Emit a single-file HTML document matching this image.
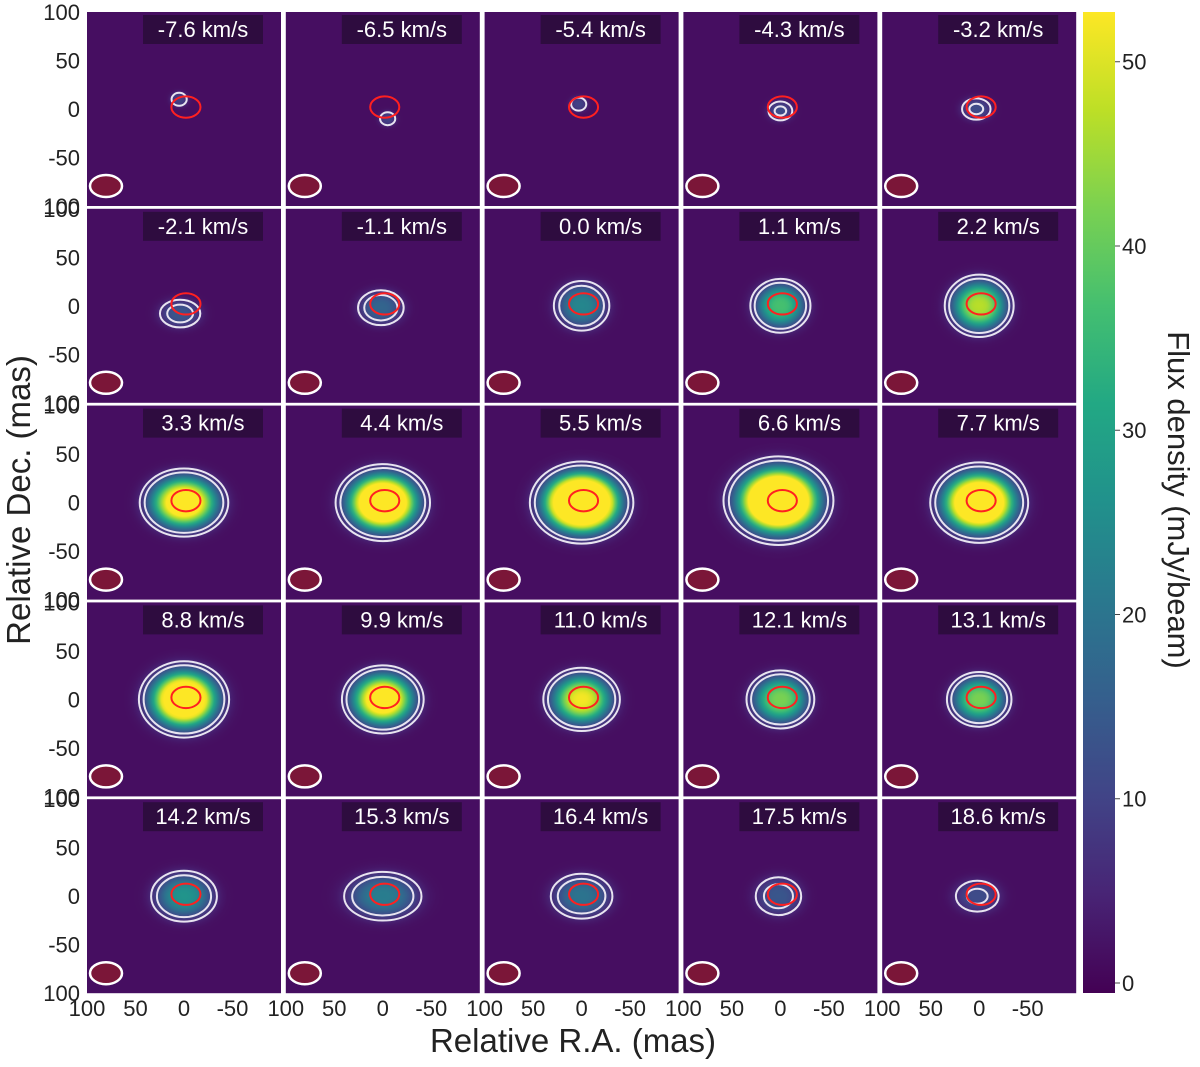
<!DOCTYPE html>
<html><head><meta charset="utf-8">
<style>
html,body{margin:0;padding:0;background:#fff;}
body{width:1200px;height:1062px;overflow:hidden;font-family:"Liberation Sans","DejaVu Sans",sans-serif;}
</style></head>
<body>
<svg id="fig" width="1200" height="1062" xmlns="http://www.w3.org/2000/svg" font-family="Liberation Sans, DejaVu Sans, sans-serif">
<defs>
<linearGradient id="cbar" x1="0" y1="1" x2="0" y2="0"></linearGradient>
</defs>
</svg>
<script>
const velocities = ["-7.6","-6.5","-5.4","-4.3","-3.2","-2.1","-1.1","0.0","1.1","2.2","3.3","4.4","5.5","6.6","7.7","8.8","9.9","11.0","12.1","13.1","14.2","15.3","16.4","17.5","18.6"];
const peakFlux = [8,8,8,10,10,12,15,22,35,45,60,75,90,85,75,70,60,50,40,40,25,20,18,12,10];
const sigmaRA = [7,7,7,10,12,16,17,19,19,21,26,27,29,31,28,26,24,23,21,20,22,27,22,18,18];
const sigmaDec = [6,6,6,8,9,11,13,17,17,19,20,22,23,25,23,22,20,19,18,17,17,17,16,15,13];
const centerRA = [5,-5,3,0,3,4,2,0,0,0,0,0,0,2,0,0,0,0,0,0,0,0,0,2,2];
const centerDec = [10,-10,5,-2,0,-8,-2,0,0,0,0,0,0,2,0,0,0,0,0,0,0,0,0,0,0];
const contourLevels = [4,9];
const cbarTicks = [0,10,20,30,40,50];
const axisTicks = [100,50,0,-50];
const yTickLabels = ["100","50","0","-50","100"];
const yTickVals = [100,50,0,-50,-100];
const VMAX = 52.7, BG = 2, EXPO = 3, EXT = 2.4;

const vir = ["#440154","#482475","#414487","#355f8d","#2a788e","#21918c","#22a884","#44bf70","#7ad151","#bddf26","#fde725"];
function hex(h){return [parseInt(h.slice(1,3),16),parseInt(h.slice(3,5),16),parseInt(h.slice(5,7),16)];}
function viridis(t){t=Math.max(0,Math.min(1,t));const f=t*10,i=Math.min(9,Math.floor(f)),u=f-i;const a=hex(vir[i]),b=hex(vir[i+1]);
return "rgb("+a.map((v,k)=>Math.round(v+(b[k]-v)*u)).join(",")+")";}

const NS="http://www.w3.org/2000/svg";
const svg=document.getElementById('fig');
const defs=svg.querySelector('defs');
function mk(tag,attrs,parent){const e=document.createElementNS(NS,tag);for(const k in attrs)e.setAttribute(k,attrs[k]);(parent||svg).appendChild(e);return e;}

const X0=87,Y0=12,PW=194,PH=194,PX=198.8,PY=196.8,S=PW/200;
function xs(col,ra){return X0+col*PX+(100-ra)*S;}
function ys(row,dec){return Y0+row*PY+(100-dec)*S;}

for(let i=0;i<25;i++){
  const row=Math.floor(i/5),col=i%5;
  const g=mk('g',{});
  
  
  const left=X0+col*PX,top=Y0+row*PY;
  const cp=mk('clipPath',{id:'cp'+i},defs);
  mk('rect',{x:left,y:top,width:PW,height:PH},cp);
  const bg=mk('rect',{x:left,y:top,width:PW,height:PH,fill:viridis(BG/VMAX)},g);
  
  
  const gr=mk('radialGradient',{id:'rg'+i},defs);
  for(let s=0;s<=24;s++){const t=s/24;const r=EXT*t;const v=BG+peakFlux[i]*Math.exp(-Math.pow(r,EXPO)/2);
    mk('stop',{offset:t,'stop-color':viridis(v/VMAX)},gr);}
  const blob=mk('ellipse',{cx:xs(col,centerRA[i]),cy:ys(row,centerDec[i]),rx:EXT*sigmaRA[i]*S,ry:EXT*sigmaDec[i]*S,fill:'url(#rg'+i+')','clip-path':'url(#cp'+i+')'},g);
  
  
  contourLevels.forEach(L=>{
    const tot=peakFlux[i];
    if(tot<=L)return;
    const k=Math.pow(2*Math.log(tot/L),1/EXPO);
    const c=mk('ellipse',{cx:xs(col,centerRA[i]),cy:ys(row,centerDec[i]),rx:k*sigmaRA[i]*S,ry:k*sigmaDec[i]*S,fill:'none',stroke:'#e8e4f0','stroke-width':2},g);
    
    
  });
  const red=mk('ellipse',{cx:xs(col,-2),cy:ys(row,2),rx:15*S,ry:11*S,fill:'none',stroke:'#ff2020','stroke-width':2},g);
  
  
  const beam=mk('ellipse',{cx:left+19,cy:top+174,rx:16,ry:11,fill:'#7b1638',stroke:'#ffffff','stroke-width':2.5},g);
  
  
  const lb=mk('rect',{x:left+56,y:top+3,width:120,height:29,fill:'#2a0c3a','fill-opacity':0.85},g);
  
  
  const tx=mk('text',{x:left+116,y:top+25,'text-anchor':'middle','font-size':22,fill:'#ffffff'},g);
  tx.textContent=velocities[i]+' km/s';
  
  
}
for(let r=0;r<5;r++){
  yTickVals.forEach((v,j)=>{
    const t=mk('text',{x:80,y:ys(r,v)+8,'text-anchor':'end','font-size':22,fill:'#222'});
    t.textContent=yTickLabels[j];
    
    
  });
}
for(let c=0;c<5;c++){
  axisTicks.forEach(v=>{
    const t=mk('text',{x:xs(c,v),y:1016,'text-anchor':'middle','font-size':22,fill:'#222'});
    t.textContent=String(v);
    
    
  });
}
const xt=mk('text',{x:573,y:1052,'text-anchor':'middle','font-size':33,fill:'#222'});
xt.textContent='Relative R.A. (mas)';


const yt=mk('text',{x:0,y:0,'text-anchor':'middle','font-size':33,fill:'#222',transform:'translate(30,500) rotate(-90)'});
yt.textContent='Relative Dec. (mas)';


const cg=document.getElementById('cbar');
for(let s=0;s<=10;s++)mk('stop',{offset:s/10,'stop-color':vir[s]},cg);
const CB0=983,CBTOP=12,CBX=1083,CBW=32;
function cy(v){return CB0-(v/VMAX)*(CB0-CBTOP);}
const cb=mk('rect',{x:CBX,y:CBTOP,width:CBW,height:993-CBTOP,fill:'url(#cbar)'});


cbarTicks.forEach(v=>{
  const y=cy(v);
  const tk=mk('line',{x1:CBX+CBW,x2:CBX+CBW+5,y1:y,y2:y,stroke:'#444','stroke-width':1});
  
  
  const t=mk('text',{x:1122,y:y+8,'font-size':22,fill:'#222'});
  t.textContent=String(v);
  
  
});
const ct=mk('text',{x:0,y:0,'text-anchor':'middle','font-size':31,fill:'#222',transform:'translate(1168,500) rotate(90)'});
ct.textContent='Flux density (mJy/beam)';


</script>
</body></html>
